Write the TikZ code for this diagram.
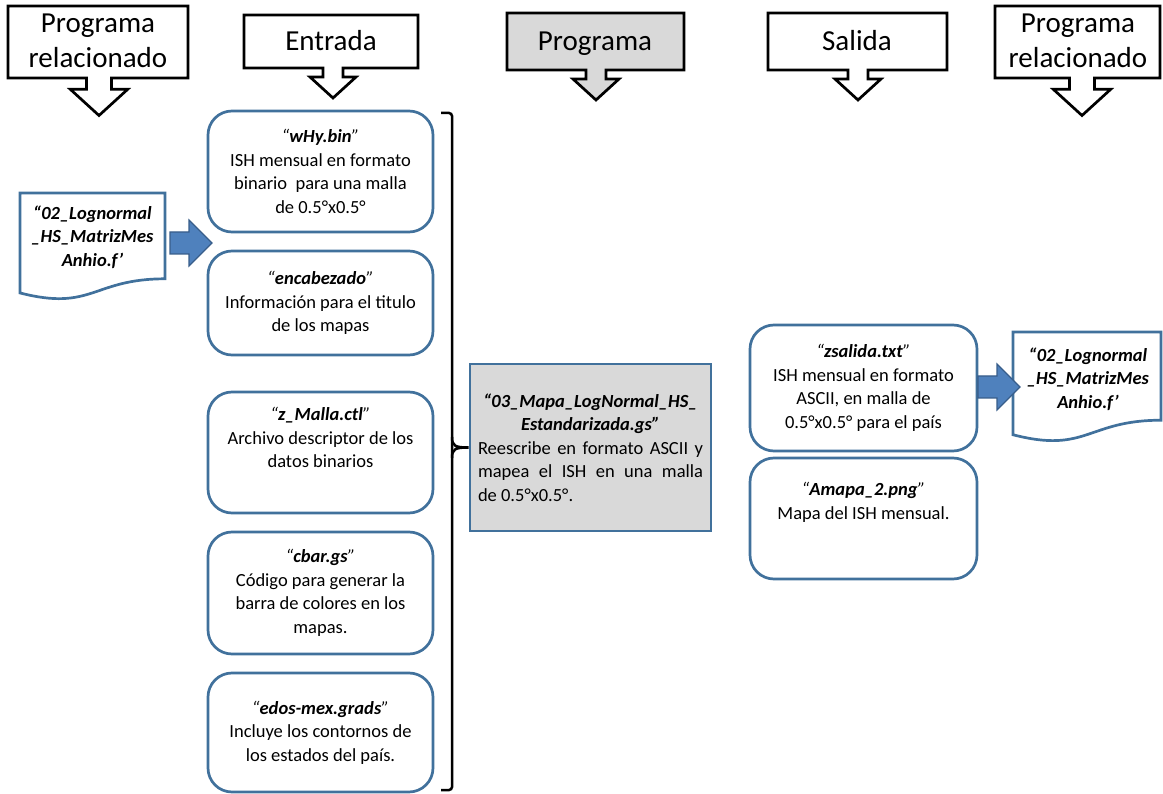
\documentclass[tikz,border=0pt]{standalone}
\usepackage{fontspec}
\setmainfont{Carlito}
\definecolor{bordblue}{HTML}{41719C}
\definecolor{arrowblue}{HTML}{4F81BD}
\definecolor{arrowedge}{HTML}{385D8A}
\definecolor{progray}{HTML}{D9D9D9}
\newcommand\bodyfont{\fontsize{18.5}{23.5}\selectfont}
\newcommand\hdrfont{\fontsize{29}{35}\selectfont}
\newcommand\fname[1]{\textbf{\textit{#1}}}
\newcommand\qname[1]{\textit{“}\fname{#1}\textit{”}}
% header callout: x1 y1 x2 y2 cx scale
\newcommand\hdrpath[6]{(#1,#2) -- (#3,#2) -- (#3,#4) -- ({#5+10*#6},#4) -- ({#5+10*#6},{#4+9*#6}) -- ({#5+23*#6},{#4+9*#6}) -- (#5,{#4+30*#6}) -- ({#5-23*#6},{#4+9*#6}) -- ({#5-10*#6},{#4+9*#6}) -- ({#5-10*#6},#4) -- (#1,#4) -- cycle}
% document shape: x y w h
\newcommand\docpath[4]{(#1,#2) -- ({#1+#3},#2) -- ({#1+#3},{#2+0.802*#4}) .. controls ({#1+#3/2},{#2+0.802*#4}) and ({#1+#3/2},{#2+1.108*#4}) .. (#1,{#2+0.934*#4}) -- cycle}
% block arrow: xstart xhead xtip cy
\newcommand\blockarrowpath[4]{(#1,{#4-11}) -- (#2,{#4-11}) -- (#2,{#4-23}) -- (#3,#4) -- (#2,{#4+23}) -- (#2,{#4+11}) -- (#1,{#4+11}) -- cycle}
\tikzset{
  filebox/.style={draw=bordblue, line width=2.7pt, rounded corners=24pt, fill=white,
    inner sep=0pt, align=center, font=\bodyfont, minimum width=225pt},
  progbox/.style={draw=bordblue, line width=2.7pt, fill=progray, inner sep=0pt,
    align=center, font=\bodyfont, minimum width=241pt, minimum height=167pt},
  hdrtext/.style={align=center, font=\hdrfont, inner sep=0pt},
  hdrshape/.style={draw=black, line width=2.7pt, line join=miter, fill=white},
  docshape/.style={draw=bordblue, line width=2.7pt, fill=white},
  doctext/.style={align=center, font=\bodyfont\bfseries\itshape, inner sep=0pt},
  blockarrow/.style={fill=arrowblue, draw=arrowedge, line width=1.2pt, line join=miter},
  bracestyle/.style={draw=black, line width=2.5pt},
}
\begin{document}
\begin{tikzpicture}[x=1pt,y=-1pt]
\useasboundingbox (0,0) rectangle (1163,794);

% headers
\draw[hdrshape] \hdrpath{8}{6}{188}{78}{99}{1.25};
\node[hdrtext] (h1) at (98,41) {Programa\\relacionado};
\draw[hdrshape] \hdrpath{244}{15}{418}{68}{333}{1};
\node[hdrtext, anchor=base] (h2) at (331,50.4) {Entrada};
\draw[hdrshape, fill=progray] \hdrpath{507}{13}{684}{70}{596}{1};
\node[hdrtext, anchor=base] (h3) at (595,50.4) {Programa};
\draw[hdrshape] \hdrpath{768}{13}{947}{70}{858}{1};
\node[hdrtext, anchor=base] (h4) at (857,50.4) {Salida};
\draw[hdrshape] \hdrpath{995}{6}{1160}{78}{1082}{1.25};
\node[hdrtext] (h5) at (1078,41) {Programa\\relacionado};

% input files
\node[filebox, minimum height=121pt] (b1) at (320.5,171.5)
  {\qname{wHy.bin}\\ISH mensual en formato\\binario\ \ para una malla\\de 0.5°x0.5°};
\node[filebox, minimum height=104pt] (b2) at (320.5,303)
  {\qname{encabezado}\\Información para el titulo\\de los mapas};
\node[filebox, minimum height=121pt] (b3) at (320.5,452.5)
  {\qname{z\_Malla.ctl}\\Archivo descriptor de los\\datos binarios\\[6pt]};
\node[filebox, minimum height=122pt] (b4) at (320.5,593)
  {\qname{cbar.gs}\\Código para generar la\\barra de colores en los\\mapas.};
\node[filebox, minimum height=119pt] (b5) at (320.5,732.5)
  {\qname{edos-mex.grads}\\Incluye los contornos de\\los estados del país.};

% program box
\node[progbox] (prog) at (590.5,447.5)
  {\fname{“03\_Mapa\_LogNormal\_HS\_}\\
   \fname{Estandarizada.gs”}\\
   \makebox[225pt][s]{Reescribe en formato ASCII y}\\
   \makebox[225pt][s]{mapea el ISH en una malla}\\
   \makebox[225pt][l]{de 0.5°x0.5°.}};

% brace
\draw[bracestyle, rounded corners=3pt] (441,113) -- (452,113) -- (452,790) -- (441,790);
\draw[bracestyle] (452,437) .. controls (452,446) and (455,447.5) .. (prog.west)
  .. controls (455,447.5) and (452,449) .. (452,458);

% output files
\node[filebox, minimum width=227pt, minimum height=126pt] (o1) at (863.5,388)
  {\qname{zsalida.txt}\\ISH mensual en formato\\ASCII, en malla de\\0.5°x0.5° para el país};
\node[filebox, minimum width=227pt, minimum height=121pt] (o2) at (863.5,518.5)
  {\qname{Amapa\_2.png}\\Mapa del ISH mensual.\\[12pt]};

% related program documents
\draw[docshape] \docpath{20}{193}{145}{107};
\node[doctext] (d1) at (92.5,237) {“02\_Lognormal\\\_HS\_MatrizMes\\Anhio.f’};
\draw[docshape] \docpath{1013}{332}{148}{110};
\node[doctext] (d2) at (1088,379) {“02\_Lognormal\\\_HS\_MatrizMes\\Anhio.f’};

% block arrows
\draw[blockarrow] \blockarrowpath{170}{189}{212}{243};
\draw[blockarrow] \blockarrowpath{978}{997}{1020}{387};
\end{tikzpicture}
\end{document}
